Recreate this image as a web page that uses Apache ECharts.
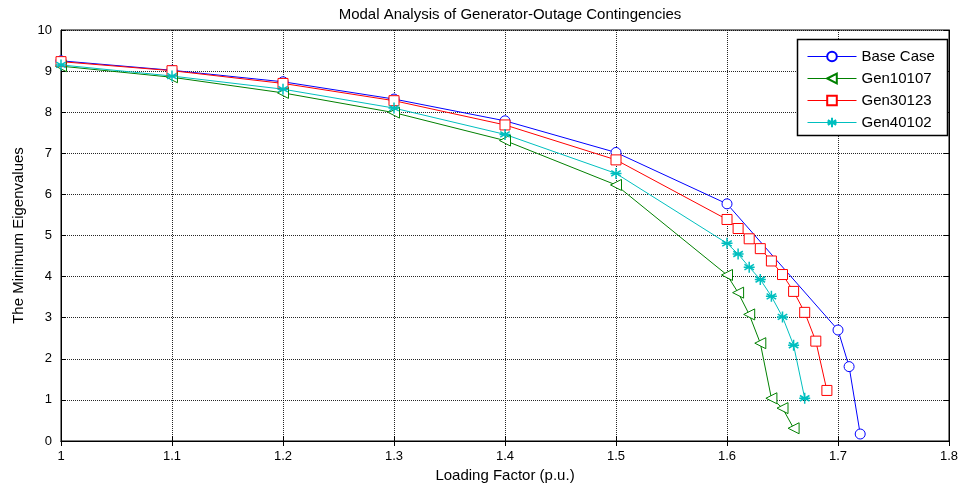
<!DOCTYPE html>
<html>
<head>
<meta charset="utf-8">
<script src="https://cdn.jsdelivr.net/npm/echarts@6/dist/echarts.min.js"></script>
<style>html,body{margin:0;padding:0;background:#fff}#c{width:966px;height:490px}</style>
</head>
<body>
<div id="c"></div>
<script>
const baseX = [1.0, 1.1, 1.2, 1.3, 1.4, 1.5, 1.6, 1.7, 1.71, 1.72];
const baseY = [9.25, 9.02, 8.74, 8.32, 7.79, 7.02, 5.77, 2.70, 1.81, 0.17];
const gen10107X = [1.0, 1.1, 1.2, 1.3, 1.4, 1.5, 1.6, 1.61, 1.62, 1.63, 1.64, 1.65, 1.66];
const gen10107Y = [9.12, 8.85, 8.47, 7.99, 7.31, 6.23, 4.04, 3.61, 3.08, 2.38, 1.04, 0.80, 0.31];
const gen30123X = [1.0, 1.1, 1.2, 1.3, 1.4, 1.5, 1.6, 1.61, 1.62, 1.63, 1.64, 1.65, 1.66, 1.67, 1.68, 1.69];
const gen30123Y = [9.23, 9.01, 8.70, 8.28, 7.69, 6.84, 5.39, 5.17, 4.92, 4.68, 4.38, 4.05, 3.64, 3.13, 2.43, 1.23];
const gen40102X = [1.0, 1.1, 1.2, 1.3, 1.4, 1.5, 1.6, 1.61, 1.62, 1.63, 1.64, 1.65, 1.66, 1.67];
const gen40102Y = [9.15, 8.88, 8.56, 8.10, 7.46, 6.51, 4.81, 4.55, 4.23, 3.93, 3.52, 3.02, 2.33, 1.04];
const seriesNames = ['Base Case', 'Gen10107', 'Gen30123', 'Gen40102'];

const zip = (xs, ys) => xs.map((x, i) => [x, ys[i]]);
const chart = echarts.init(document.getElementById('c'), null, {renderer: 'canvas'});
const font = 'Arial, "Liberation Sans", sans-serif';
const star = 'path://M0,-5L0,5M-4.33,-2.5L4.33,2.5M-4.33,2.5L4.33,-2.5M-5,0L5,0';
const gridLine = {show: true, lineStyle: {color: '#000', type: [1, 1], width: 1, opacity: 0.85}};
const mk = (name, data, color, symbol, size, rotate, bw) => ({
  name, type: 'line', data, symbol, symbolSize: size, symbolRotate: rotate || 0,
  showAllSymbol: true, animation: false,
  lineStyle: {color, width: 1},
  itemStyle: {color: symbol.startsWith('path') ? 'rgba(0,0,0,0)' : '#fff', borderColor: color, borderWidth: bw || 1},
  emphasis: {disabled: true}
});
chart.setOption({
  animation: false,
  title: {text: 'Modal Analysis of Generator-Outage Contingencies', left: 505, textAlign: 'center', top: 2,
    textStyle: {fontFamily: font, fontSize: 15, fontWeight: 'normal', color: '#000'}},
  grid: {left: 61, right: 17, top: 30, bottom: 49, show: true, borderColor: '#000', borderWidth: 1},
  graphic: [{
    type: 'rect', z: 3, shape: {x: 797.5, y: 39.5, width: 150, height: 96},
    style: {fill: '#fff', stroke: '#000', lineWidth: 1.5}
  }],
  legend: {
    orient: 'vertical', left: 797, top: 39, itemWidth: 49, itemHeight: 12, itemGap: 7,
    textStyle: {fontFamily: font, fontSize: 15, color: '#000', lineHeight: 12},
    lineStyle: {width: 1},
    padding: [10, 10, 8, 10], z: 5,
    data: seriesNames
  },
  xAxis: [{
    type: 'value', min: 1, max: 1.8, interval: 0.1,
    name: 'Loading Factor (p.u.)', nameLocation: 'middle', nameGap: 21,
    nameTextStyle: {fontFamily: font, fontSize: 15, color: '#000'},
    axisLine: {show: true, lineStyle: {color: '#000'}},
    axisTick: {show: true, inside: true, length: 5, lineStyle: {color: '#000'}},
    axisLabel: {fontFamily: font, fontSize: 13, color: '#000', margin: 9,
      formatter: v => String(Math.round(v * 10) / 10)},
    splitLine: gridLine
  }, {
    type: 'value', min: 1, max: 1.8, interval: 0.1, position: 'top',
    axisLine: {show: true, lineStyle: {color: '#000'}},
    axisTick: {show: true, inside: true, length: 5, lineStyle: {color: '#000'}},
    axisLabel: {show: false}, splitLine: {show: false}
  }],
  yAxis: [{
    type: 'value', min: 0, max: 10, interval: 1,
    name: 'The Minimum Eigenvalues', nameLocation: 'middle', nameGap: 20,
    nameTextStyle: {fontFamily: font, fontSize: 15, color: '#000'},
    axisLine: {show: true, lineStyle: {color: '#000'}},
    axisTick: {show: true, inside: true, length: 5, lineStyle: {color: '#000'}},
    axisLabel: {fontFamily: font, fontSize: 13, color: '#000', margin: 9},
    splitLine: gridLine
  }, {
    type: 'value', min: 0, max: 10, interval: 1, position: 'right',
    axisLine: {show: true, lineStyle: {color: '#000'}},
    axisTick: {show: true, inside: true, length: 5, lineStyle: {color: '#000'}},
    axisLabel: {show: false}, splitLine: {show: false}
  }],
  series: [
    mk(seriesNames[0], zip(baseX, baseY), '#0000ff', 'circle', 10),
    mk(seriesNames[1], zip(gen10107X, gen10107Y), '#008000', 'triangle', 11, 90),
    mk(seriesNames[2], zip(gen30123X, gen30123Y), '#ff0000', 'rect', 10),
    mk(seriesNames[3], zip(gen40102X, gen40102Y), '#00bfbf', star, 11, 0, 1.5)
  ]
});
</script>
</body>
</html>
